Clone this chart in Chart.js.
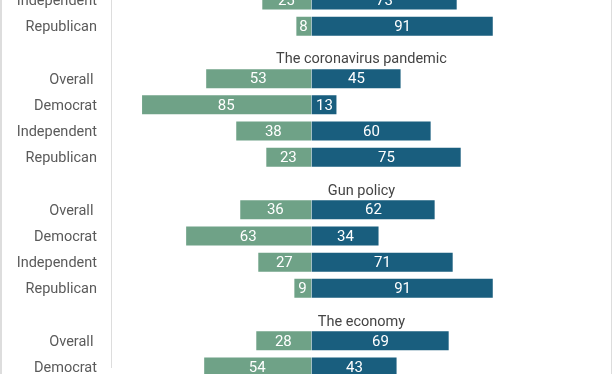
<!DOCTYPE html>
<html>
<head>
<meta charset="utf-8">
<script src="https://cdn.jsdelivr.net/npm/chart.js@4"></script>
<style>
html,body{margin:0;padding:0;background:#ffffff;}
#wrap{width:612px;height:374px;position:relative;}
</style>
</head>
<body>
<div id="wrap"><canvas id="c" width="612" height="374"></canvas></div>
<script>
// Row labels ('' marks a section-title slot)
const categories = ['Independent','Republican','','Overall ','Democrat','Independent','Republican','','Overall ','Democrat','Independent','Republican','','Overall ','Democrat'];
const sectionTitles = ['The coronavirus pandemic','Gun policy','The economy'];
const greenValues = [25, 8, null, 53, 85, 38, 23, null, 36, 63, 27, 9, null, 28, 54];
const blueValues  = [73, 91, null, 45, 13, 60, 75, null, 62, 34, 71, 91, null, 69, 43];
const xMin = -100;
const xMax = 150;

const GREEN = '#6fa287';
const BLUE = '#195e7e';
const FONT = 'Roboto, "Noto Sans", sans-serif';

Chart.defaults.font.family = FONT;

const framePlugin = {
  id: 'frame',
  afterDraw(chart) {
    const ctx = chart.ctx;
    ctx.save();
    ctx.fillStyle = '#dddddd';
    ctx.fillRect(0, 0, 2, chart.height);
    ctx.fillRect(chart.width - 1, 0, 1, chart.height);
    ctx.restore();
  }
};

const titlesPlugin = {
  id: 'sectionTitles',
  afterDatasetsDraw(chart) {
    const ctx = chart.ctx;
    const y = chart.scales.y;
    const area = chart.chartArea;
    ctx.save();
    ctx.font = '14.5px ' + FONT;
    ctx.fillStyle = '#444444';
    ctx.textAlign = 'center';
    ctx.textBaseline = 'alphabetic';
    let k = 0;
    categories.forEach((c, i) => {
      if (c === '' && k < sectionTitles.length) {
        ctx.fillText(sectionTitles[k], (area.left + area.right) / 2, y.getPixelForValue(i) + 11);
        k++;
      }
    });
    ctx.restore();
  }
};

const valuesPlugin = {
  id: 'valueLabels',
  afterDatasetsDraw(chart) {
    const ctx = chart.ctx;
    ctx.save();
    ctx.font = '15px ' + FONT;
    ctx.fillStyle = '#ffffff';
    ctx.textAlign = 'center';
    ctx.textBaseline = 'middle';
    chart.data.datasets.forEach((ds, di) => {
      const meta = chart.getDatasetMeta(di);
      meta.data.forEach((el, i) => {
        const v = ds.data[i];
        if (v === null || v === undefined) return;
        const p = el.getProps(['x', 'y', 'base'], true);
        ctx.fillText(String(Math.abs(v)), (p.x + p.base) / 2, p.y + 1);
      });
    });
    ctx.restore();
  }
};

new Chart(document.getElementById('c'), {
  type: 'bar',
  data: {
    labels: categories,
    datasets: [
      {
        label: 'Green',
        data: greenValues.map(v => v === null ? null : -v),
        backgroundColor: GREEN,
        borderColor: 'rgba(255,255,255,0.3)',
        borderWidth: 1,
        barPercentage: 0.8,
        categoryPercentage: 1,
        clip: false
      },
      {
        label: 'Blue',
        data: blueValues,
        backgroundColor: BLUE,
        borderColor: 'rgba(255,255,255,0.3)',
        borderWidth: 1,
        barPercentage: 0.8,
        categoryPercentage: 1,
        clip: false
      }
    ]
  },
  options: {
    indexAxis: 'y',
    responsive: false,
    devicePixelRatio: 1,
    animation: false,
    layout: { padding: { top: 0, bottom: 7, left: 0, right: 0 } },
    plugins: {
      legend: { display: false },
      tooltip: { enabled: false },
      title: { display: false }
    },
    scales: {
      x: {
        type: 'linear',
        stacked: true,
        min: xMin,
        max: xMax,
        display: false
      },
      y: {
        type: 'category',
        stacked: true,
        offset: false,
        grid: { display: false, drawTicks: false },
        border: { display: true, color: '#dddddd', width: 1 },
        ticks: {
          autoSkip: false,
          padding: 14,
          labelOffset: 1.5,
          color: '#5a5a5a',
          font: { size: 14.5 }
        },
        afterFit(scale) {
          scale.width = 111;
          scale.paddingTop = 0;
          scale.paddingBottom = 0;
        }
      }
    }
  },
  plugins: [framePlugin, titlesPlugin, valuesPlugin]
});
</script>
</body>
</html>
